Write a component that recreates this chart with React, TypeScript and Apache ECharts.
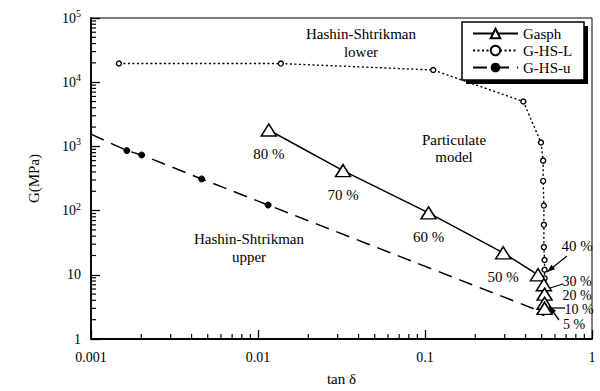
import React, { useEffect, useRef } from "react";
import * as echarts from "echarts";

const FONT = '"Liberation Serif", "Times New Roman", serif';

// tan δ and G (MPa) values
const gasphX = [0.0116, 0.0323, 0.105, 0.294, 0.475, 0.515, 0.52, 0.52, 0.52];
const gasphG = [1800, 420, 92, 22, 10, 7, 5, 3.6, 3.0];
const gasphPct = ["80 %", "70 %", "60 %", "50 %", "40 %", "30 %", "20 %", "10 %", "5 %"];

const hslX = [0.00147, 0.0137, 0.112, 0.388, 0.495, 0.51, 0.51, 0.515, 0.515, 0.515, 0.52, 0.52, 0.52, 0.52, 0.52];
const hslG = [19600, 19500, 15500, 5000, 1150, 600, 290, 120, 60, 27, 17, 12, 8.8, 6, 4.2];

const hsuX = [0.001, 0.00164, 0.00201, 0.0046, 0.0115, 0.51];
const hsuG = [1550, 860, 735, 311, 122, 2.6];

const xTickLabels: Record<string, string> = { "0.001": "0.001", "0.01": "0.01", "0.1": "0.1", "1": "1" };
const minorMult = [2, 3, 4, 5, 6, 7, 8, 9];
const xDecades = [0.001, 0.01, 0.1];
const yDecades = [1, 10, 100, 1000, 10000];

export default function App() {
  const ref = useRef<HTMLDivElement>(null);
  useEffect(() => {
    document.body.style.margin = "0";
    if (!ref.current) return;
    const chart = echarts.init(ref.current, null, { renderer: "svg" });

    const xMinor: number[] = [];
    xDecades.forEach((d) => minorMult.forEach((m) => xMinor.push(+(d * m).toPrecision(3))));
    const yMinor: number[] = [];
    yDecades.forEach((d) => minorMult.forEach((m) => yMinor.push(d * m)));

    const txt = (x: number, y: number, text: string, size = 15) => ({
      type: "text",
      x,
      y,
      z: 10,
      style: { text, fill: "#000", font: `${size}px ${FONT}`, align: "center", verticalAlign: "middle" },
    });
    const ln = (x1: number, y1: number, x2: number, y2: number) => ({
      type: "line",
      z: 10,
      shape: { x1, y1, x2, y2 },
      style: { stroke: "#000", lineWidth: 1.3 },
    });
    const arrowHead = (x: number, y: number, ang: number) => {
      const L = 8, W = 3;
      const c = Math.cos(ang), s = Math.sin(ang);
      return {
        type: "polygon",
        z: 10,
        shape: {
          points: [
            [x, y],
            [x - L * c + W * s, y - L * s - W * c],
            [x - L * c - W * s, y - L * s + W * c],
          ],
        },
        style: { fill: "#000" },
      };
    };

    const option: any = {
      animation: false,
      backgroundColor: "#fff",
      grid: { left: 91, right: 8, top: 18, bottom: 48, show: true, borderColor: "#000", borderWidth: 1 },
      legend: {
        orient: "vertical",
        left: 472,
        top: 26,
        z: 20,
        padding: 0,
        itemGap: 2,
        itemWidth: 45,
        itemHeight: 12,
        data: ["Gasph", "G-HS-L", "G-HS-u"],
        textStyle: { fontFamily: FONT, fontSize: 15, color: "#000" },
      },
      xAxis: {
        type: "log",
        logBase: 10,
        min: 0.001,
        max: 1,
        name: "tan δ",
        nameLocation: "middle",
        nameGap: 32,
        nameTextStyle: { fontFamily: FONT, fontSize: 15, color: "#000" },
        axisLine: { lineStyle: { color: "#000", width: 1.8 } },
        axisTick: { inside: true, length: 9, lineStyle: { color: "#000", width: 1.3 } },
        axisLabel: {
          fontFamily: FONT,
          fontSize: 14,
          color: "#000",
          margin: 11,
          formatter: (v: number) => xTickLabels[String(v)] ?? String(v),
        },
        splitLine: { show: false },
      },
      yAxis: {
        type: "log",
        logBase: 10,
        min: 1,
        max: 100000,
        name: "G(MPa)",
        nameLocation: "middle",
        nameGap: 50,
        nameRotate: 90,
        nameTextStyle: { fontFamily: FONT, fontSize: 15, color: "#000" },
        axisLine: { lineStyle: { color: "#000", width: 1.8 } },
        axisTick: { inside: true, length: 9, lineStyle: { color: "#000", width: 1.3 } },
        axisLabel: {
          color: "#000",
          margin: 10,
          formatter: (v: number) => {
            const e = Math.round(Math.log10(v));
            if (e === 0) return "{b|1}";
            if (e === 1) return "{b|10}";
            return `{b|10}{s|${e}}`;
          },
          rich: {
            b: { fontFamily: FONT, fontSize: 14, color: "#000", lineHeight: 16 },
            s: { fontFamily: FONT, fontSize: 10, color: "#000", lineHeight: 16, padding: [0, 0, 9, 0] },
          },
        },
        splitLine: { show: false },
      },
      series: [
        {
          name: "Gasph",
          type: "line",
          data: gasphX.map((x, i) => ({
            value: [x, gasphG[i]],
            label: { show: i < 4, formatter: gasphPct[i] },
          })),
          symbol: "triangle",
          symbolSize: [15, 12],
          showAllSymbol: true,
          z: 5,
          lineStyle: { color: "#000", width: 1.5 },
          itemStyle: { color: "#fff", borderColor: "#000", borderWidth: 1.5 },
          label: { position: "bottom", distance: 10, fontFamily: FONT, fontSize: 15, color: "#000" },
        },
        {
          name: "G-HS-L",
          type: "line",
          data: hslX.map((x, i) => [x, hslG[i]]),
          symbol: "circle",
          symbolSize: 5,
          showAllSymbol: true,
          z: 3,
          lineStyle: { color: "#000", width: 1.4, type: [2, 2.5] },
          itemStyle: { color: "#fff", borderColor: "#000", borderWidth: 1.4 },
        },
        {
          name: "G-HS-u",
          type: "line",
          data: hsuX.map((x, i) => ({
            value: [x, hsuG[i]],
            symbol: i === 0 ? "none" : "circle",
          })),
          symbol: "circle",
          symbolSize: 6,
          showAllSymbol: true,
          z: 4,
          lineStyle: { color: "#000", width: 1.5, type: [14, 8] },
          itemStyle: { color: "#000", borderColor: "#000" },
        },
        {
          type: "custom",
          silent: true,
          data: xMinor.map((v) => [v, 1]),
          renderItem: (params: any, api: any) => {
            const p = api.coord([api.value(0), 1]);
            return { type: "line", shape: { x1: p[0], y1: p[1], x2: p[0], y2: p[1] - 5 }, style: { stroke: "#000", lineWidth: 1.2 } };
          },
        },
        {
          type: "custom",
          silent: true,
          data: yMinor.map((v) => [0.001, v]),
          renderItem: (params: any, api: any) => {
            const p = api.coord([0.001, api.value(1)]);
            return { type: "line", shape: { x1: p[0], y1: p[1], x2: p[0] + 5, y2: p[1] }, style: { stroke: "#000", lineWidth: 1.2 } };
          },
        },
      ],
      graphic: [
        { type: "rect", z: 1, shape: { x: 466, y: 26, width: 122, height: 58 }, style: { fill: "#000" } },
        { type: "rect", z: 2, shape: { x: 462, y: 22, width: 122, height: 58 }, style: { fill: "#fff", stroke: "#000", lineWidth: 1.5 } },
        txt(361, 34, "Hashin-Shtrikman"),
        txt(361, 52, "lower"),
        txt(454, 140, "Particulate"),
        txt(454, 157, "model"),
        txt(249, 239, "Hashin-Shtrikman"),
        txt(249, 257, "upper"),
        txt(577, 246, "40 %"),
        ln(567, 256, 547, 272),
        arrowHead(547, 272, Math.atan2(272 - 256, 547 - 567)),
        txt(577, 281, "30 %", 14),
        ln(563, 284, 550, 288),
        txt(577, 295, "20 %", 14),
        txt(579, 309, "10 %", 14),
        ln(565, 308, 551, 308),
        txt(574, 324, "5 %", 14),
        ln(559, 320, 549, 306),
        arrowHead(549, 306, Math.atan2(306 - 320, 549 - 559)),
      ],
    };
    chart.setOption(option);
    return () => chart.dispose();
  }, []);
  return <div ref={ref} style={{ width: 600, height: 391 }} />;
}
